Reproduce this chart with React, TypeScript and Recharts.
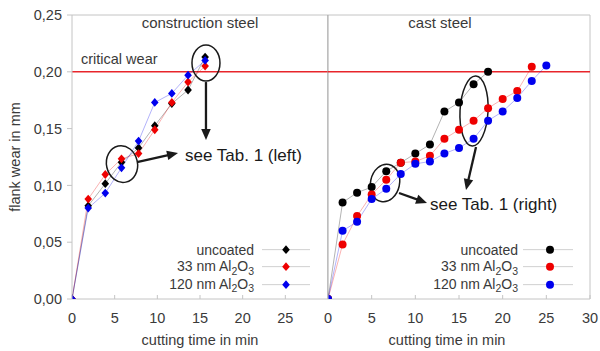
import React from 'react';
import { LineChart, Line, XAxis, YAxis, ReferenceLine, ReferenceDot, Legend } from 'recharts';

const FONT = '"Liberation Sans", Arial, Helvetica, sans-serif';
const TEXT = '#3a3a3a';
const FRAME = '#c4c4c4';
const DIVIDER = '#a8a8a8';
const FS = 14.5;

// series
const seriesNames = ['uncoated', '33 nm Al2O3', '120 nm Al2O3'];
const seriesColors = ['#000000', '#ee0000', '#0000ee'];

// construction steel (left panel)
const constrTime = [0, 1.9, 3.9, 5.8, 7.8, 9.7, 11.7, 13.6, 15.6];
const constrUncoated = [0, 0.082, 0.1015, 0.1204, 0.133, 0.1526, 0.172, 0.184, 0.213];
const constr33 = [0, 0.088, 0.1096, 0.1234, 0.128, 0.149, 0.173, 0.191, 0.205];
const constr120 = [0, 0.08, 0.0932, 0.1155, 0.139, 0.173, 0.181, 0.197, 0.21];

// cast steel (right panel)
const castTime = [0, 1.67, 3.33, 5, 6.67, 8.33, 10, 11.67, 13.33, 15, 16.67, 18.33, 20, 21.67, 23.33, 25];
const castUncoated = [0, 0.085, 0.0936, 0.0985, 0.1125, 0.12, 0.128, 0.136, 0.165, 0.173, 0.189, 0.2];
const cast33 = [0, 0.048, 0.073, 0.092, 0.105, 0.12, 0.121, 0.126, 0.141, 0.149, 0.157, 0.168, 0.176, 0.183, 0.2045];
const cast120 = [0, 0.06, 0.068, 0.088, 0.097, 0.11, 0.119, 0.121, 0.128, 0.133, 0.141, 0.157, 0.165, 0.177, 0.192, 0.2055];

// axes
const yTicks = [0, 0.05, 0.1, 0.15, 0.2, 0.25];
const leftXTicks = [0, 5, 10, 15, 20, 25];
const rightXTicks = [0, 5, 10, 15, 20, 25, 30];
const criticalWear = 0.2;

const panelTitles = ['construction steel', 'cast steel'];
const xLabel = 'cutting time in min';
const yLabel = 'flank wear in mm';

// annotations: anchored at data coordinates (t, v)
const leftNotes = [
  { t: 5.86, v: 0.1188, rx: 15.5, ry: 18.5, rot: -12, arrow: [15, -2, 56, -11], text: 'see Tab. 1 (left)', tx: 63, ty: -3 },
  { t: 15.7, v: 0.2077, rx: 14, ry: 18, rot: 0, arrow: [0, 19, 0, 77] },
];
const rightNotes = [
  { t: 6.53, v: 0.1021, rx: 14.5, ry: 19, rot: 12, arrow: [14, 10, 42, 20], text: 'see Tab. 1 (right)', tx: 45, ty: 26.5 },
  { t: 16.72, v: 0.1655, rx: 14, ry: 35, rot: 3, arrow: [2, 36, -8, 79] },
];

const toPts = (ts: number[], vs: number[]) => vs.map((v, i) => ({ t: ts[i], v }));
const leftSeries = [constrUncoated, constr33, constr120].map((vs) => toPts(constrTime, vs));
const rightSeries = [castUncoated, cast33, cast120].map((vs) => toPts(castTime, vs));

const fmtY = (v: number) => v.toFixed(2).replace('.', ',');

const diamondPath = (cx: number, cy: number, w = 3.8, h = 4.4) =>
  `M${cx},${cy - h}L${cx + w},${cy}L${cx},${cy + h}L${cx - w},${cy}Z`;

const makeDot = (color: string, shape: 'diamond' | 'circle') => (p: any) => {
  const { cx, cy, index } = p;
  if (cx == null || cy == null) return <g key={index} />;
  return shape === 'diamond' ? (
    <path key={index} d={diamondPath(cx, cy)} fill={color} />
  ) : (
    <circle key={index} cx={cx} cy={cy} r={4} fill={color} />
  );
};

const XTick = (props: any) => {
  const { x, y, payload } = props;
  return (
    <g>
      <line x1={x} x2={x} y1={y} y2={y - 4} stroke={FRAME} />
      <text x={x} y={y + 23.5} textAnchor="middle" fontSize={FS} fill={TEXT} fontFamily={FONT}>
        {payload.value}
      </text>
    </g>
  );
};

const renderName = (n: string) => {
  const m = n.match(/^(.*)Al2O3$/);
  if (!m) return n;
  const sub = { fontSize: 10.5, position: 'relative' as const, top: 3.5 };
  return (
    <>
      {m[1]}Al<span style={sub}>2</span>O<span style={sub}>3</span>
    </>
  );
};

const LegendBox = ({ shape, gap, lineWidth, markerX }: any) => (
  <div style={{ fontFamily: FONT, fontSize: 14, color: TEXT }}>
    {seriesNames.map((n, i) => (
      <div key={n} style={{ display: 'flex', alignItems: 'center', height: 17.3 }}>
        <span style={{ width: 130, textAlign: 'right', whiteSpace: 'nowrap', lineHeight: '14px' }}>{renderName(n)}</span>
        <svg width={lineWidth} height={17.3} style={{ marginLeft: gap, display: 'block' }}>
          <line x1={0} x2={lineWidth} y1={8.65} y2={8.65} stroke="#d0d0d0" />
          {shape === 'diamond' ? (
            <path d={diamondPath(markerX, 8.65)} fill={seriesColors[i]} />
          ) : (
            <circle cx={markerX} cy={8.65} r={4} fill={seriesColors[i]} />
          )}
        </svg>
      </div>
    ))}
  </div>
);

const arrowParts = (x1: number, y1: number, x2: number, y2: number) => {
  const dx = x2 - x1;
  const dy = y2 - y1;
  const L = Math.hypot(dx, dy);
  const ux = dx / L;
  const uy = dy / L;
  const hl = 11;
  const hw = 4.8;
  const bx = x2 - ux * hl;
  const by = y2 - uy * hl;
  const px = -uy;
  const py = ux;
  return {
    line: [x1, y1, bx + ux * 1, by + uy * 1],
    head: `M${x2},${y2}L${bx + px * hw},${by + py * hw}L${bx - px * hw},${by - py * hw}Z`,
  };
};

const makeNoteShape = (note: any) => (p: any) => {
  const { cx, cy } = p;
  if (cx == null) return <g />;
  const [a1, b1, a2, b2] = note.arrow;
  const ar = arrowParts(cx + a1, cy + b1, cx + a2, cy + b2);
  return (
    <g>
      <ellipse
        cx={cx}
        cy={cy}
        rx={note.rx}
        ry={note.ry}
        fill="none"
        stroke="#1a1a1a"
        strokeWidth={1.5}
        transform={`rotate(${note.rot}, ${cx}, ${cy})`}
      />
      <line x1={ar.line[0]} y1={ar.line[1]} x2={ar.line[2]} y2={ar.line[3]} stroke="#1a1a1a" strokeWidth={2.3} />
      <path d={ar.head} fill="#1a1a1a" />
      {note.text && (
        <text x={cx + note.tx} y={cy + note.ty} fontSize={17} fill="#1a1a1a" fontFamily={FONT}>
          {note.text}
        </text>
      )}
    </g>
  );
};

const titleContent = (title: string, dx: number) => (p: any) => {
  const vb = p.viewBox || {};
  return (
    <text x={vb.x + (vb.width || 0) / 2 + dx} y={vb.y + 12.5} textAnchor="middle" fontSize={15} fill={TEXT} fontFamily={FONT}>
      {title}
    </text>
  );
};

const xLabelContent = (dx: number) => (p: any) => {
  const vb = p.viewBox || {};
  return (
    <text x={vb.x + vb.width / 2 + dx} y={vb.y + 46} textAnchor="middle" fontSize={FS} fill={TEXT} fontFamily={FONT}>
      {xLabel}
    </text>
  );
};

const yLabelContent = (p: any) => {
  const vb = p.viewBox || {};
  const x = vb.x + 15;
  const y = vb.y + vb.height / 2;
  return (
    <text
      x={x}
      y={y}
      transform={`rotate(-90, ${x}, ${y})`}
      textAnchor="middle"
      dominantBaseline="central"
      fontSize={FS}
      fill={TEXT}
      fontFamily={FONT}
    >
      {yLabel}
    </text>
  );
};

const criticalContent = (p: any) => {
  const vb = p.viewBox || {};
  return (
    <text x={vb.x + 9} y={vb.y - 7.5} fontSize={FS} fill={TEXT} fontFamily={FONT}>
      critical wear
    </text>
  );
};

export default function App() {
  return (
    <div style={{ position: 'absolute', left: 0, top: 0, width: 600, height: 351, background: '#fff' }}>
      <div style={{ position: 'absolute', left: 0, top: 0 }}>
        <LineChart width={328} height={351} margin={{ top: 15, right: 0, bottom: 0, left: 0 }}>
          <XAxis
            type="number"
            dataKey="t"
            domain={[0, 30]}
            ticks={leftXTicks}
            interval={0}
            allowDataOverflow
            height={52}
            tickSize={0}
            tickMargin={0}
            tickLine={false}
            tick={<XTick />}
            axisLine={{ stroke: FRAME }}
            label={{ content: xLabelContent(0) }}
          />
          <YAxis
            type="number"
            dataKey="v"
            domain={[0, 0.25]}
            ticks={yTicks}
            interval={0}
            allowDataOverflow
            width={72}
            tickFormatter={fmtY}
            tickSize={5}
            tickMargin={5}
            tickLine={{ stroke: FRAME }}
            axisLine={{ stroke: FRAME }}
            tick={{ fontSize: FS, fill: TEXT, fontFamily: FONT }}
            label={{ content: yLabelContent }}
          />
          <ReferenceLine y={0.25} stroke={FRAME} label={{ content: titleContent(panelTitles[0], 0) }} />
          <ReferenceLine x={30} stroke={DIVIDER} />
          <ReferenceLine y={criticalWear} stroke="#e8252b" strokeWidth={1.5} label={{ content: criticalContent }} />
          {leftSeries.map((d, i) => (
            <Line
              key={seriesNames[i]}
              data={d}
              dataKey="v"
              name={seriesNames[i]}
              type="linear"
              stroke={seriesColors[i]}
              strokeOpacity={0.3}
              strokeWidth={1}
              dot={makeDot(seriesColors[i], 'diamond')}
              activeDot={false}
              isAnimationActive={false}
            />
          ))}
          {leftNotes.map((n, i) => (
            <ReferenceDot key={i} x={n.t} y={n.v} r={0} shape={makeNoteShape(n)} />
          ))}
          <Legend
            layout="vertical"
            align="center"
            verticalAlign="middle"
            wrapperStyle={{ left: 124, top: 241, width: 'auto', height: 'auto' }}
            content={() => <LegendBox shape="diamond" gap={8} lineWidth={48} markerX={24} />}
          />
        </LineChart>
      </div>
      <div style={{ position: 'absolute', left: 300, top: 0 }}>
        <LineChart width={300} height={351} margin={{ top: 15, right: 10, bottom: 0, left: 28 }}>
          <XAxis
            type="number"
            dataKey="t"
            domain={[0, 30]}
            ticks={rightXTicks}
            interval={0}
            allowDataOverflow
            height={52}
            tickSize={0}
            tickMargin={0}
            tickLine={false}
            tick={<XTick />}
            axisLine={{ stroke: FRAME }}
            label={{ content: xLabelContent(-12) }}
          />
          <YAxis type="number" dataKey="v" domain={[0, 0.25]} ticks={yTicks} hide width={0} allowDataOverflow />
          <ReferenceLine y={0.25} stroke={FRAME} label={{ content: titleContent(panelTitles[1], -19) }} />
          <ReferenceLine x={0} stroke={DIVIDER} />
          <ReferenceLine x={30} stroke={FRAME} />
          <ReferenceLine y={criticalWear} stroke="#e8252b" strokeWidth={1.5} />
          {rightSeries.map((d, i) => (
            <Line
              key={seriesNames[i]}
              data={d}
              dataKey="v"
              name={seriesNames[i]}
              type="linear"
              stroke={seriesColors[i]}
              strokeOpacity={0.3}
              strokeWidth={1}
              dot={makeDot(seriesColors[i], 'circle')}
              activeDot={false}
              isAnimationActive={false}
            />
          ))}
          {rightNotes.map((n, i) => (
            <ReferenceDot key={i} x={n.t} y={n.v} r={0} shape={makeNoteShape(n)} />
          ))}
          <Legend
            layout="vertical"
            align="center"
            verticalAlign="middle"
            wrapperStyle={{ left: 88, top: 241, width: 'auto', height: 'auto' }}
            content={() => <LegendBox shape="circle" gap={5} lineWidth={50} markerX={27} />}
          />
        </LineChart>
      </div>
    </div>
  );
}
